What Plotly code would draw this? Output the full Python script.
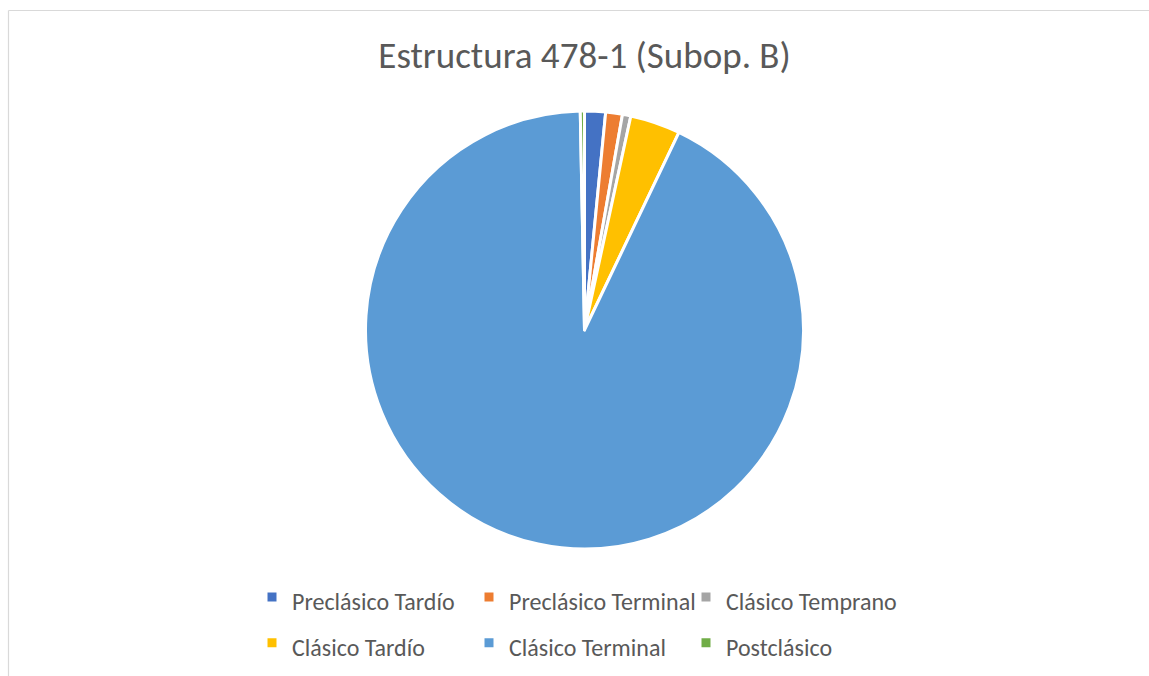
import plotly.graph_objects as go

categories = ["Preclásico Tardío", "Preclásico Terminal", "Clásico Temprano",
              "Clásico Tardío", "Clásico Terminal", "Postclásico"]
values = [5, 4, 2, 12, 300, 1]
colors = ["#4472C4", "#ED7D31", "#A5A5A5", "#FFC000", "#5B9BD5", "#70AD47"]

W, H = 1149, 676
ML, MR, MT, MB = 250, 230, 111, 127
PW, PH = W - ML - MR, H - MT - MB

def px_x(x):
    return (x - ML) / PW

def px_y(y):
    return 1 - (y - MT) / PH

labels = ['<span style="font-size:24px">%s</span>' % c for c in categories]

fig = go.Figure(go.Pie(
    labels=labels,
    values=values,
    sort=False,
    direction="clockwise",
    rotation=0,
    textinfo="none",
    marker=dict(colors=colors, line=dict(color="white", width=3)),
    hoverinfo="label+value+percent",
))

fig.update_layout(
    width=W, height=H,
    margin=dict(l=ML, r=MR, t=MT, b=MB, autoexpand=False),
    paper_bgcolor="white",
    plot_bgcolor="white",
    font=dict(family="Calibri, Carlito, Lato, sans-serif", color="#595959"),
    title=dict(text="Estructura 478-1 (Subop. B)", x=0.5, xref="paper",
               y=1 - 55 / H, yref="container", yanchor="middle", xanchor="center",
               font=dict(size=37, color="#595959")),
    showlegend=True,
    legend=dict(orientation="h", x=px_x(252), xanchor="left",
                y=px_y(569), yanchor="top",
                font=dict(size=33, color="#595959"),
                entrywidth=172, itemclick=False, traceorder="normal"),
    shapes=[
        dict(type="line", xref="paper", yref="paper", x0=px_x(8.5), x1=px_x(1200),
             y0=px_y(10.5), y1=px_y(10.5), line=dict(color="#D9D9D9", width=1.2)),
        dict(type="line", xref="paper", yref="paper", x0=px_x(8.5), x1=px_x(8.5),
             y0=px_y(10.5), y1=px_y(700), line=dict(color="#D9D9D9", width=1.2)),
    ],
)

fig.write_html("out.html", config={"displayModeBar": False},
               post_script="document.body.style.margin='0';")
